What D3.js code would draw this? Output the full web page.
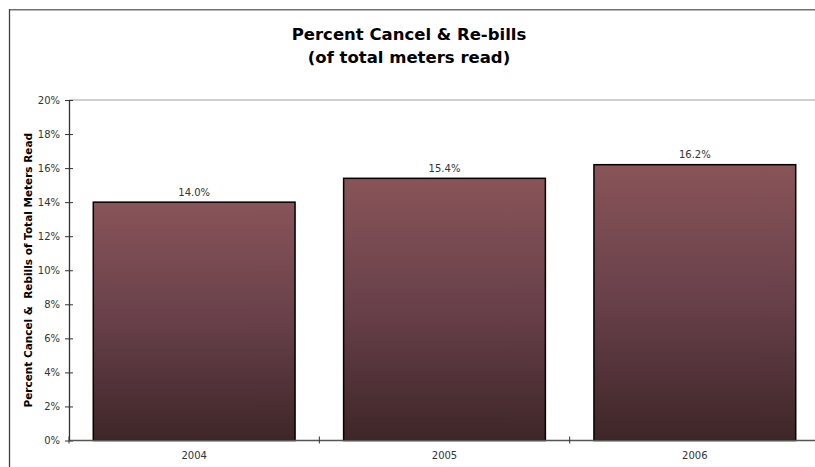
<!DOCTYPE html>
<html>
<head>
<meta charset="utf-8">
<script src="https://cdn.jsdelivr.net/npm/d3@7"></script>
<style>
  html, body { margin: 0; padding: 0; background: #fff; overflow: hidden; }
  svg { display: block; }
</style>
</head>
<body>
<svg id="chart" width="815" height="467"></svg>
<script>
// Chart data
const categories = ["2004", "2005", "2006"];
const values = [14.0, 15.4, 16.2];
const valueLabels = ["14.0%", "15.4%", "16.2%"];
const yTicks = [0, 2, 4, 6, 8, 10, 12, 14, 16, 18, 20];
const titleLines = ["Percent Cancel & Re-bills", "(of total meters read)"];
const yTitle = "Percent Cancel &  Rebills of Total Meters Read";

const svg = d3.select("#chart");
const W = 815, H = 467;
const plot = { left: 69, top: 100, right: 820, bottom: 440.5 };

// Outer chart frame: top and left edges (the rest runs off the page)
svg.append("line")
  .attr("x1", 9).attr("x2", W).attr("y1", 9.75).attr("y2", 9.75)
  .attr("stroke", "#707070").attr("stroke-width", 1.5);
svg.append("line")
  .attr("x1", 9.5).attr("x2", 9.5).attr("y1", 9).attr("y2", H)
  .attr("stroke", "#404040").attr("stroke-width", 1.3);

// Title
svg.append("text")
  .attr("x", 409).attr("text-anchor", "middle")
  .attr("font-family", "'DejaVu Sans', Verdana, sans-serif")
  .attr("font-weight", "bold")
  .attr("font-size", 16.5)
  .attr("fill", "#000")
  .selectAll("tspan").data(titleLines).join("tspan")
  .attr("x", 409)
  .attr("y", (d, i) => 40 + i * 23)
  .text(d => d);

const x = d3.scaleBand()
  .domain(categories)
  .range([plot.left, plot.right])
  .paddingInner(0.194)
  .paddingOuter(0.097);

const y = d3.scaleLinear()
  .domain([0, 20])
  .range([plot.bottom, plot.top]);

// Gradient fill for bars
const defs = svg.append("defs");
const grad = defs.append("linearGradient")
  .attr("id", "barGrad")
  .attr("x1", 0).attr("y1", 0).attr("x2", 0).attr("y2", 1);
grad.append("stop").attr("offset", "0%").attr("stop-color", "#885458");
grad.append("stop").attr("offset", "50%").attr("stop-color", "#68404a");
grad.append("stop").attr("offset", "100%").attr("stop-color", "#3e2628");

// Plot area top border
svg.append("line")
  .attr("x1", plot.left).attr("x2", W)
  .attr("y1", y(20)).attr("y2", y(20))
  .attr("stroke", "#a0a0a0").attr("stroke-width", 1);

// Bars
const data = categories.map((c, i) => ({ cat: c, v: values[i], label: valueLabels[i] }));
svg.append("g").selectAll("rect").data(data).join("rect")
  .attr("x", d => x(d.cat))
  .attr("y", d => y(d.v))
  .attr("width", x.bandwidth())
  .attr("height", d => y(0) - y(d.v))
  .attr("fill", "url(#barGrad)")
  .attr("stroke", "#000")
  .attr("stroke-width", 1.5);

// Value labels
svg.append("g").selectAll("text").data(data).join("text")
  .attr("x", d => x(d.cat) + x.bandwidth() / 2)
  .attr("y", d => y(d.v) - 6.5)
  .attr("text-anchor", "middle")
  .attr("font-family", "'DejaVu Sans', Verdana, sans-serif")
  .attr("font-size", 10)
  .attr("fill", "#333")
  .text(d => d.label);

// Y axis
const yAxis = d3.axisLeft(y)
  .tickValues(yTicks)
  .tickFormat(d => d + "%")
  .tickSizeInner(4)
  .tickSizeOuter(0)
  .tickPadding(5);
const gy = svg.append("g")
  .attr("transform", `translate(${plot.left},0)`)
  .call(yAxis);
gy.select(".domain").attr("stroke", "#333").attr("stroke-width", 1.3);
gy.selectAll(".tick line").attr("stroke", "#333").attr("x2", -4).attr("x1", 4);
gy.selectAll(".tick text")
  .attr("font-family", "'DejaVu Sans', Verdana, sans-serif")
  .attr("font-size", 10)
  .attr("fill", "#333")
  .attr("x", -9);

// X axis: category labels centred, tick marks on category boundaries
svg.append("line")
  .attr("x1", plot.left).attr("x2", W)
  .attr("y1", y(0)).attr("y2", y(0))
  .attr("stroke", "#555").attr("stroke-width", 1.3);
const bounds = categories.map(c => x(c) - x.step() * x.paddingOuter());
svg.append("g").selectAll("line").data(bounds).join("line")
  .attr("x1", d => d).attr("x2", d => d)
  .attr("y1", y(0) - 4).attr("y2", y(0) + 3)
  .attr("stroke", "#333").attr("stroke-width", 1);
svg.append("g").selectAll("text").data(categories).join("text")
  .attr("x", d => x(d) + x.bandwidth() / 2)
  .attr("y", 459)
  .attr("text-anchor", "middle")
  .attr("font-family", "'DejaVu Sans', Verdana, sans-serif")
  .attr("font-size", 10)
  .attr("fill", "#333")
  .text(d => d);

// Y axis title
svg.append("text")
  .attr("transform", `translate(31.5,${(y(0) + y(20)) / 2}) rotate(-90)`)
  .attr("text-anchor", "middle")
  .attr("font-family", "'DejaVu Sans', Verdana, sans-serif")
  .attr("font-weight", "bold")
  .attr("font-size", 10.5)
  .attr("fill", "#000")
  .style("white-space", "pre")
  .text(yTitle);
</script>
</body>
</html>
